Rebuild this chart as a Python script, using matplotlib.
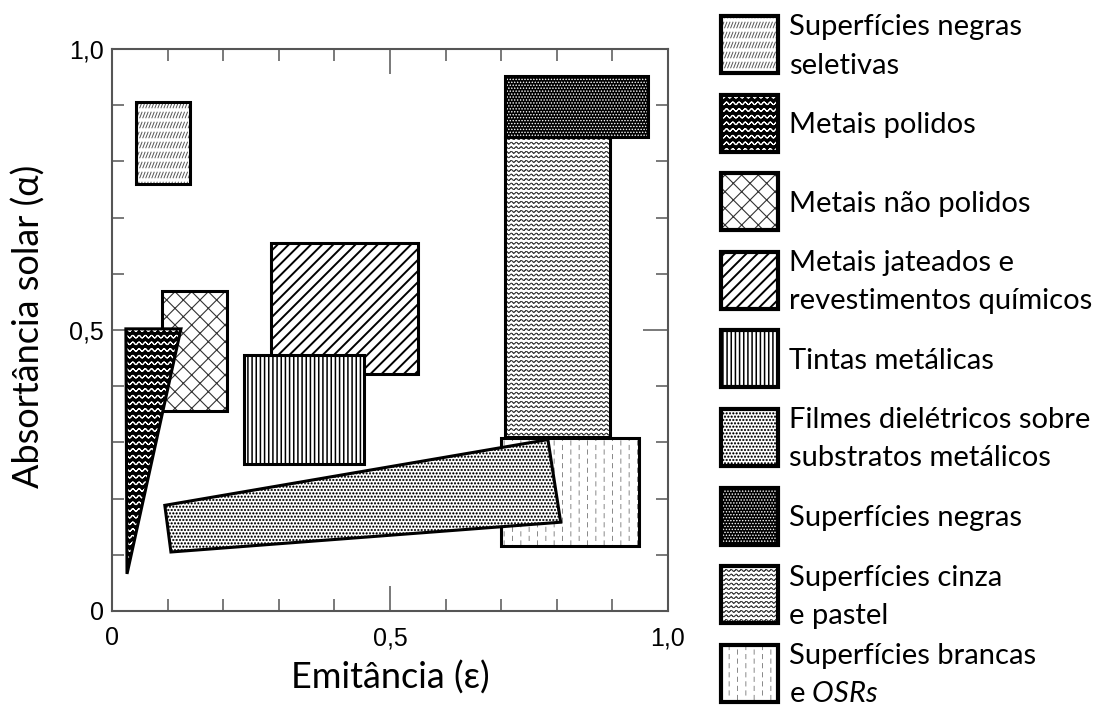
import warnings
warnings.filterwarnings('ignore')
import numpy as np
import matplotlib
matplotlib.use('Agg')
import matplotlib as mpl
import matplotlib.pyplot as plt
import matplotlib.hatch as mhatch
from matplotlib.path import Path
from matplotlib.patches import Polygon
from matplotlib.ticker import MultipleLocator

# ------------------------------------------------------------------ data
labels = ["Superfícies negras\nseletivas", "Metais polidos", "Metais não polidos",
          "Metais jateados e\nrevestimentos químicos", "Tintas metálicas",
          "Filmes dielétricos sobre\nsubstratos metálicos", "Superfícies negras",
          "Superfícies cinza\ne pastel", "Superfícies brancas\ne $\\mathit{OSRs}$"]

# region outlines in (emitância ε, absortância α)
sel_eps, sel_alpha = [0.043, 0.141, 0.141, 0.043], [0.759, 0.759, 0.906, 0.906]
pol_eps, pol_alpha = [0.025, 0.124, 0.027], [0.502, 0.502, 0.066]
npol_eps, npol_alpha = [0.090, 0.207, 0.207, 0.090], [0.356, 0.356, 0.569, 0.569]
jat_eps, jat_alpha = [0.286, 0.550, 0.550, 0.286], [0.422, 0.422, 0.654, 0.654]
tin_eps, tin_alpha = [0.238, 0.454, 0.454, 0.238], [0.261, 0.261, 0.456, 0.456]
fil_eps, fil_alpha = [0.095, 0.106, 0.807, 0.784], [0.188, 0.105, 0.158, 0.305]
neg_eps, neg_alpha = [0.706, 0.964, 0.964, 0.706], [0.844, 0.844, 0.952, 0.952]
cin_eps, cin_alpha = [0.706, 0.896, 0.896, 0.706], [0.309, 0.309, 0.844, 0.844]
bra_eps, bra_alpha = [0.699, 0.948, 0.948, 0.699], [0.115, 0.115, 0.307, 0.307]

tick_vals = [0, 0.5, 1.0]
tick_labels = ["0", "0,5", "1,0"]

# ------------------------------------------------------------------ custom hatches
class _Custom(mhatch.HatchPatternBase):
    char = None
    def __init__(self, hatch, density):
        if hatch is not None and self.char in hatch:
            self._v, self._c = self.build()
            self.num_vertices = len(self._v)
        else:
            self.num_vertices = 0
    def set_vertices_and_codes(self, vertices, codes):
        vertices[:] = self._v
        codes[:] = self._c

def _retrace(pts):
    p = np.vstack([pts, pts[-2::-1]])
    c = np.full(len(p), Path.LINETO, dtype=Path.code_type)
    c[0] = Path.MOVETO
    return p, c

class _Wave(_Custom):
    rows, periods, amp = 15, 16, 0.012
    def build(self):
        t = np.linspace(-0.02, 1.02, int(self.periods * 1.04 * 10) + 1)
        V, C = [], []
        for k in range(self.rows):
            y0 = (k + 0.5) / self.rows
            pts = np.column_stack([t, y0 + self.amp * np.sin(2 * np.pi * self.periods * t)])
            p, c = _retrace(pts)
            V.append(p); C.append(c)
        return np.vstack(V), np.concatenate(C)

class WavePolidos(_Wave):
    char = 'W'; rows, periods, amp = 15, 16, 0.013

class WaveCinza(_Wave):
    char = 'V'; rows, periods, amp = 22, 20, 0.009

class _Dots(_Custom):
    n, r = 30, 0.007
    def build(self):
        ang = np.linspace(0, 2 * np.pi, 9)[:-1]
        circ = np.column_stack([np.cos(ang), np.sin(ang)]) * self.r
        V, C = [], []
        for i in range(self.n + 1):
            off = 0.5 / self.n if i % 2 else 0.0
            for j in range(-1, self.n + 1):
                x = j / self.n + off
                y = i / self.n
                pts = np.vstack([circ + [x, y], [[x, y]]])
                c = np.full(9, Path.LINETO, dtype=Path.code_type)
                c[0] = Path.MOVETO; c[-1] = Path.CLOSEPOLY
                V.append(pts); C.append(c)
        return np.vstack(V), np.concatenate(C)

class DotsFilmes(_Dots):
    char = 'D'; n, r = 30, 0.0088

class DotsNegras(_Dots):
    char = 'N'; n, r = 34, 0.0055

class DashBrancas(_Custom):
    char = 'B'; ncol, m, L = 12, 11, 0.042
    def build(self):
        V, C = [], []
        for j in range(self.ncol):
            x = (j + 0.5) / self.ncol
            off = 0.5 if j % 2 else 0.0
            for i in range(self.m):
                y = (i + off) / self.m + 0.004
                V.append([[x, y], [x, y + self.L]])
                C.append([Path.MOVETO, Path.LINETO])
        return np.array(V).reshape(-1, 2), np.array(C, dtype=Path.code_type).ravel()

class SlashSeletivas(_Custom):
    char = 'S'; nr, nc, dx, dy = 10, 33, 0.011, 0.028
    def build(self):
        V, C = [], []
        for i in range(self.nr):
            y = (i + 0.5) / self.nr
            for j in range(-1, self.nc + 1):
                x = (j + 0.5) / self.nc
                V.append([[x - self.dx, y - self.dy], [x + self.dx, y + self.dy]])
                C.append([Path.MOVETO, Path.LINETO])
        return np.array(V).reshape(-1, 2), np.array(C, dtype=Path.code_type).ravel()

mhatch._hatch_types.extend([WavePolidos, WaveCinza, DotsFilmes, DotsNegras,
                            DashBrancas, SlashSeletivas])

class HatchPolygon(Polygon):
    def __init__(self, xy, hatch_lw=1.0, **kw):
        self._hlw = hatch_lw
        with mpl.rc_context({'hatch.linewidth': hatch_lw}):
            super().__init__(xy, **kw)
        if hasattr(self, 'set_hatch_linewidth'):
            self.set_hatch_linewidth(hatch_lw)
    def draw(self, renderer):
        with mpl.rc_context({'hatch.linewidth': self._hlw}):
            super().draw(renderer)

# styles: (hatch, face colour, hatch colour, hatch linewidth)
styles = [
    ('S', 'white', '#555555', 0.7),     # negras seletivas
    ('W', 'black', 'white', 0.75),      # metais polidos
    ('xx', 'white', '#333333', 0.8),    # metais não polidos
    ('///', 'white', 'black', 1.4),     # jateados
    ('||||', 'white', 'black', 1.1),    # tintas metálicas
    ('D', 'white', 'black', 0.3),       # filmes dielétricos
    ('N', 'black', 'white', 0.3),       # negras
    ('V', 'white', '#444444', 0.6),     # cinza e pastel
    ('B', 'white', '#888888', 0.7),     # brancas e OSRs
]

regions = [(sel_eps, sel_alpha), (pol_eps, pol_alpha), (npol_eps, npol_alpha),
           (jat_eps, jat_alpha), (tin_eps, tin_alpha), (fil_eps, fil_alpha),
           (neg_eps, neg_alpha), (cin_eps, cin_alpha), (bra_eps, bra_alpha)]
draw_order = [0, 2, 1, 3, 4, 7, 6, 8, 5]

# ------------------------------------------------------------------ figure
mpl.rcParams['mathtext.fontset'] = 'custom'
mpl.rcParams['mathtext.rm'] = 'Lato'
mpl.rcParams['mathtext.it'] = 'Lato:italic'

W, H = 1105, 706
fig = plt.figure(figsize=(W / 100, H / 100), dpi=100)
ax = fig.add_axes([112 / W, 1 - 611 / H, 556 / W, 562 / H])

def add_region(axis, xy, style, z, outline_lw=2.2, transform=None):
    hatch, fc, hc, hlw = style
    kw = {} if transform is None else {'transform': transform}
    axis.add_patch(HatchPolygon(xy, hatch_lw=hlw, closed=True, facecolor=fc,
                                edgecolor=hc, linewidth=0, hatch=hatch, zorder=z, **kw))
    axis.add_patch(Polygon(xy, closed=True, fill=False, edgecolor='black',
                           linewidth=outline_lw, joinstyle='miter', zorder=z + 0.1, **kw))

for k, idx in enumerate(draw_order):
    e, a = regions[idx]
    add_region(ax, np.column_stack([e, a]), styles[idx], 2 + k)

ax.set_xlim(0, 1)
ax.set_ylim(0, 1)
ax.set_xticks(tick_vals)
ax.set_xticklabels(tick_labels)
ax.set_yticks(tick_vals)
ax.set_yticklabels(tick_labels)
ax.xaxis.set_minor_locator(MultipleLocator(0.1))
ax.yaxis.set_minor_locator(MultipleLocator(0.1))
spine_c = '#555555'
for s in ax.spines.values():
    s.set_color(spine_c)
    s.set_linewidth(1.5)
    s.set_zorder(1)
ax.tick_params(which='both', direction='in', top=True, right=True, color=spine_c,
               width=1.1)
ax.tick_params(which='major', length=18, labelsize=18)
ax.tick_params(axis='x', which='major', pad=11)
ax.tick_params(axis='y', which='major', pad=6)
ax.tick_params(which='minor', length=8.5)
for lab in ax.get_xticklabels() + ax.get_yticklabels():
    lab.set_family('Liberation Sans')

ax.set_xlabel('Emitância (ε)', fontsize=26, family='Lato')
ax.xaxis.set_label_coords(0.5, -0.088)
ax.xaxis.label.set_va('top')
ax.set_ylabel('Absortância solar (α)', fontsize=26, family='Lato')
ax.yaxis.set_label_coords(-0.12, 0.507)

# ------------------------------------------------------------------ legend
lax = fig.add_axes([0, 0, 1, 1])
lax.set_xlim(0, W)
lax.set_ylim(H, 0)
lax.axis('off')
pitch = 78.6
fs = 21
for i, lab in enumerate(labels):
    top = 16 + i * pitch
    xy = np.array([[721, top], [778, top], [778, top + 57], [721, top + 57]])
    add_region(lax, xy, styles[i], 2, outline_lw=3.0)
    c = top + 28.5
    lines = lab.split('\n')
    if len(lines) == 1:
        lax.text(789, c + 10, lines[0], fontsize=fs, family='Lato', va='baseline')
    else:
        lax.text(789, c - 9, lines[0], fontsize=fs, family='Lato', va='baseline')
        lax.text(789, c + 29, lines[1], fontsize=fs, family='Lato', va='baseline')

fig.savefig('out.png', dpi=100)
